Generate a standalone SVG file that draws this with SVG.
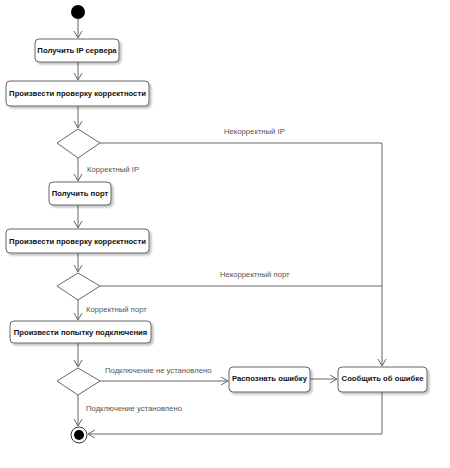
<svg xmlns="http://www.w3.org/2000/svg" width="450" height="468" viewBox="0 0 450 468">
<defs>
<marker id="arr" markerWidth="10" markerHeight="10" refX="8" refY="5" orient="auto" markerUnits="userSpaceOnUse">
<path d="M1,1 L8,5 L1,9" fill="none" stroke="#666" stroke-width="1"/>
</marker>
<filter id="sh" x="-10%" y="-20%" width="130%" height="160%">
<feGaussianBlur in="SourceAlpha" stdDeviation="1.2"/>
<feOffset dx="1.5" dy="1.5" result="b"/>
<feComponentTransfer><feFuncA type="linear" slope="0.25"/></feComponentTransfer>
<feMerge><feMergeNode/><feMergeNode in="SourceGraphic"/></feMerge>
</filter>
</defs>
<style>
.box{fill:#fff;stroke:#666;stroke-width:1;filter:url(#sh)}
.dia{fill:#fff;stroke:#666;stroke-width:1}
.t{font-family:"Liberation Sans",Arial,sans-serif;font-size:7.7px;font-weight:bold;fill:#111;text-anchor:middle}
.l{font-family:"Liberation Sans",Arial,sans-serif;font-size:7.7px;fill:#555}
.c{fill:none;stroke:#666;stroke-width:1}
</style>
<rect width="450" height="468" fill="#fff"/>
<g id="connectors">
<path class="c" d="M78,19 L78,38" marker-end="url(#arr)"/>
<path class="c" d="M78,62 L78,80" marker-end="url(#arr)"/>
<path class="c" d="M78,106 L78,128" marker-end="url(#arr)"/>
<path class="c" d="M78,158 L78,181" marker-end="url(#arr)"/>
<path class="c" d="M100,143 L382,143 L382,366" marker-end="url(#arr)"/>
<path class="c" d="M78,205 L78,228" marker-end="url(#arr)"/>
<path class="c" d="M78,253 L78,272" marker-end="url(#arr)"/>
<path class="c" d="M100,286 L382,286"/>
<path class="c" d="M78,300 L78,320" marker-end="url(#arr)"/>
<path class="c" d="M78,343 L78,367" marker-end="url(#arr)"/>
<path class="c" d="M100,381 L228,381" marker-end="url(#arr)"/>
<path class="c" d="M310,379 L337,379" marker-end="url(#arr)"/>
<path class="c" d="M78,395 L78,426" marker-end="url(#arr)"/>
<path class="c" d="M382,392 L382,434 L88,434" marker-end="url(#arr)"/>
<text class="l" x="224" y="134">Некорректный IP</text>
<text class="l" x="87" y="172">Корректный IP</text>
<text class="l" x="220" y="277">Некорректный порт</text>
<text class="l" x="86" y="312">Корректный порт</text>
<text class="l" x="105" y="373">Подключение не установлено</text>
<text class="l" x="86" y="411">Подключение установлено</text>
</g>
<g id="start"><circle cx="78" cy="12" r="7" fill="#000"/></g>
<g id="n1"><rect class="box" x="35" y="39" width="84" height="23" rx="4"/><text class="t" x="77" y="53">Получить IP сервера</text></g>
<g id="n2"><rect class="box" x="6" y="81" width="143" height="25" rx="4"/><text class="t" x="77.5" y="96">Произвести проверку корректности</text></g>
<g id="d1"><polygon class="dia" points="78,129 100,143 78,158 57,143"/></g>
<g id="n3"><rect class="box" x="49" y="182" width="62" height="23" rx="4"/><text class="t" x="80" y="196">Получить порт</text></g>
<g id="n4"><rect class="box" x="6" y="229" width="143" height="24" rx="4"/><text class="t" x="77.5" y="244">Произвести проверку корректности</text></g>
<g id="d2"><polygon class="dia" points="78,273 100,286 78,300 57,286"/></g>
<g id="n5"><rect class="box" x="10" y="321" width="141" height="22" rx="4"/><text class="t" x="80.5" y="335">Произвести попытку подключения</text></g>
<g id="d3"><polygon class="dia" points="78,368 100,381 78,395 57,381"/></g>
<g id="n6"><rect class="box" x="229" y="367" width="81" height="25" rx="4"/><text class="t" x="269.5" y="381">Распознать ошибку</text></g>
<g id="n7"><rect class="box" x="338" y="367" width="89" height="25" rx="4"/><text class="t" x="382.5" y="381">Сообщить об ошибке</text></g>
<g id="end"><circle cx="79" cy="435" r="8" fill="#fff" stroke="#333" stroke-width="1"/><circle cx="79" cy="435" r="5" fill="#000"/></g>
</svg>
